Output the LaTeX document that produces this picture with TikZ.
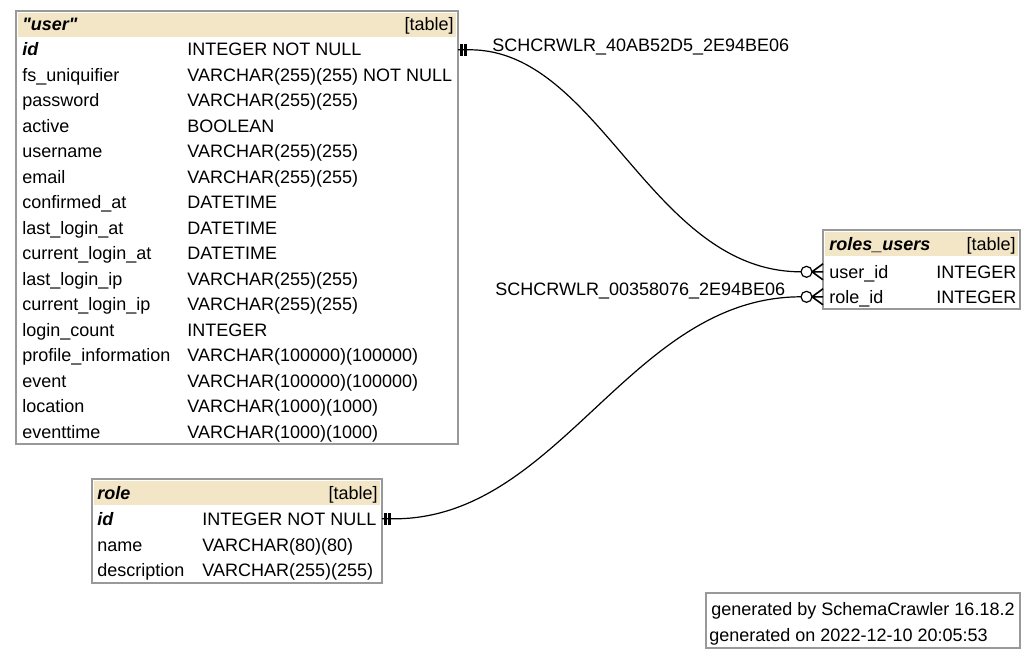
\documentclass[tikz,border=0pt]{standalone}
\usepackage{fontspec}
\setmainfont{Liberation Sans}
\newfontfamily\erfont{Liberation Sans}
\usetikzlibrary{positioning}
\definecolor{hdrtan}{HTML}{F2E6C6}
\definecolor{boxgray}{HTML}{999999}

\begin{document}
\begin{tikzpicture}[x=0.5pt,y=-0.5pt,
	every node/.style={font=\erfont\fontsize{9}{10}\selectfont,inner sep=0pt},
	cell/.style={anchor=base west},
	tag/.style={anchor=base east},
	key/.style={anchor=base west,font=\erfont\fontsize{9}{10}\selectfont\bfseries\itshape},
	frame/.style={draw=boxgray,line width=0.65pt},
	band/.style={fill=hdrtan},
	bar/.style={line width=1.5pt},
	rel/.style={line width=0.6pt}]
	\useasboundingbox (0,0) rectangle (1036,658);
	% "user"
	\fill[band] (18,13) rectangle (456,37);
	\draw[frame] (16,11) coordinate (user-nw) rectangle (458,444) coordinate (user-se);
	\node[key] (user-title) at (22,31) {"user"};
	\node[tag] (user-tag) at (454,31) {[table]};
	\node[key] (user-n1) at (22,56) {id};
	\node[cell] (user-t1) at (187,56) {INTEGER NOT NULL};
	\foreach \n/\t [count=\i from 2] in {fs\_uniquifier/VARCHAR(255)(255) NOT NULL, password/VARCHAR(255)(255), active/BOOLEAN, username/VARCHAR(255)(255), email/VARCHAR(255)(255), confirmed\_at/DATETIME, last\_login\_at/DATETIME, current\_login\_at/DATETIME, last\_login\_ip/VARCHAR(255)(255), current\_login\_ip/VARCHAR(255)(255), login\_count/INTEGER, profile\_information/VARCHAR(100000)(100000), event/VARCHAR(100000)(100000), location/VARCHAR(1000)(1000), eventtime/VARCHAR(1000)(1000)}{
		\node[cell] (user-n\i) at (22,{56+25.47*(\i-1)}) {\n};
		\node[cell] (user-t\i) at (187,{56+25.47*(\i-1)}) {\t};
	}
	% role
	\fill[band] (94,481) rectangle (380,505);
	\draw[frame] (92,479) coordinate (role-nw) rectangle (382,583) coordinate (role-se);
	\node[key] (role-title) at (97,499) {role};
	\node[tag] (role-tag) at (378,499) {[table]};
	\node[key] (role-n1) at (97,525) {id};
	\node[cell] (role-t1) at (202,525) {INTEGER NOT NULL};
	\node[cell] (role-n2) at (97,551) {name};
	\node[cell] (role-t2) at (202,551) {VARCHAR(80)(80)};
	\node[cell] (role-n3) at (97,576) {description};
	\node[cell] (role-t3) at (202,576) {VARCHAR(255)(255)};
	% roles_users
	\fill[band] (825,232) rectangle (1018,256);
	\draw[frame] (823,230) coordinate (ru-nw) rectangle (1020,309) coordinate (ru-se);
	\node[key] (ru-title) at (829,250) {roles\_users};
	\node[tag] (ru-tag) at (1016,250) {[table]};
	\node[cell] (ru-n1) at (829,278) {user\_id};
	\node[cell] (ru-t1) at (936,278) {INTEGER};
	\node[cell] (ru-n2) at (829,303) {role\_id};
	\node[cell] (ru-t2) at (936,303) {INTEGER};
	% footer
	\draw[frame] (706,593) rectangle (1020,648);
	\node[cell] (gen-by) at (711,615) {generated by SchemaCrawler 16.18.2};
	\node[cell] (gen-on) at (709,641) {generated on 2022-12-10 20:05:53};
	% relationships
	\coordinate (user-port) at (user-se |- user-t1);
	\coordinate (role-port) at (role-se |- role-t1);
	\coordinate (ru-port1) at (ru-nw |- ru-t1);
	\coordinate (ru-port2) at (ru-nw |- ru-t2);
	\draw[rel] (user-port) -- ++(12,0) .. controls +(130,0) and +(-150,0) .. ([xshift=-11pt]ru-port1);
	\draw[rel] (role-port) -- ++(12,0) .. controls +(166,0) and +(-171,0) .. ([xshift=-11pt]ru-port2);
	\node[cell] (fk1) at (492,52) {SCHCRWLR\_40AB52D5\_2E94BE06};
	\node[cell] (fk2) at (495,295) {SCHCRWLR\_00358076\_2E94BE06};
	\foreach \p in {user-port,role-port}{
		\draw[bar] ([xshift=1.5pt]\p) ++(0,-6) -- ++(0,12);
		\draw[bar] ([xshift=3.5pt]\p) ++(0,-6) -- ++(0,12);
	}
	\foreach \p in {ru-port1,ru-port2}{
		\draw[rel,fill=white] ([xshift=-8.25pt]\p) circle (2.75pt);
		\draw[rel,line width=0.8pt] ([xshift=-5.5pt]\p) -- ++(11,-8) ([xshift=-5.5pt]\p) -- ++(11,8) ([xshift=-5.5pt]\p) -- ++(11,0);
	}
\end{tikzpicture}
\end{document}
